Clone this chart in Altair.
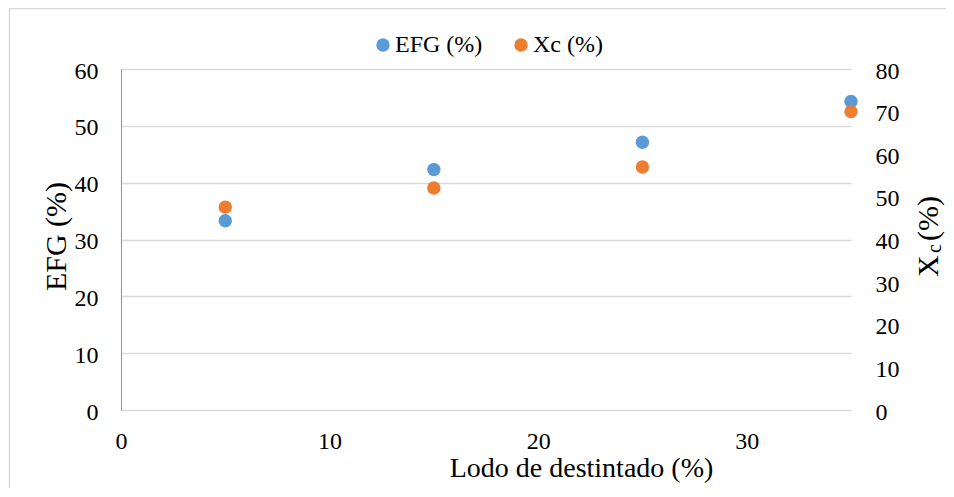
import altair as alt
import pandas as pd

# ---- data ----
lodo = [5, 15, 25, 35]
efg = [33.3, 42.3, 47.1, 54.3]
xc = [47.6, 52.1, 57.0, 70.0]
series = ["EFG (%)", "Xc (%)"]
colors = ["#5B9BD5", "#ED7D31"]
x_ticks = [0, 10, 20, 30]
left_ticks = [0, 10, 20, 30, 40, 50, 60]
right_ticks = [0, 10, 20, 30, 40, 50, 60, 70, 80]

FONT = "Times New Roman"
W, H = 730, 341

df_efg = pd.DataFrame({"lodo": lodo, "valor": efg, "serie": series[0]})
df_xc = pd.DataFrame({"lodo": lodo, "valor": xc, "serie": series[1]})

color = alt.Color(
    "serie:N",
    scale=alt.Scale(domain=series, range=colors),
    legend=alt.Legend(
        title=None, orient="none", direction="horizontal",
        legendX=250, legendY=-36,
        labelFont=FONT, labelFontSize=24, labelColor="black",
        symbolType="circle", symbolSize=180, symbolStrokeWidth=0,
        labelOffset=0, columnPadding=26,
    ),
)

x_enc = alt.X(
    "lodo:Q",
    scale=alt.Scale(domain=[0, 35], nice=False),
    axis=alt.Axis(
        values=x_ticks, grid=False, domain=False, ticks=False, labelFlush=False,
        labelPadding=19, labelFont=FONT, labelFontSize=24, labelColor="black",
        title="Lodo de destintado (%)", titleFont=FONT, titleFontSize=28,
        titleFontWeight="normal", titleColor="black",
        titleX=460, titleY=66, titleAlign="center", titleBaseline="alphabetic",
    ),
)

left = alt.Chart(df_efg).mark_circle(size=180, opacity=1).encode(
    x=x_enc,
    y=alt.Y(
        "valor:Q",
        scale=alt.Scale(domain=[0, 60], nice=False),
        axis=alt.Axis(
            values=left_ticks, grid=True, gridColor="#D9D9D9", gridWidth=1.3,
            domain=True, domainColor="#5B9BD5", domainWidth=1, ticks=False,
            labelPadding=23, labelOffset=2, labelFont=FONT, labelFontSize=24,
            labelColor="black",
            title="EFG (%)", titleFont=FONT, titleFontSize=30,
            titleFontWeight="normal", titleColor="black",
            titleX=-56, titleY=167, titleAngle=270, titleAlign="center",
            titleBaseline="alphabetic",
        ),
    ),
    color=color,
)

right = alt.Chart(df_xc).mark_circle(size=180, opacity=1).encode(
    x=x_enc,
    y=alt.Y(
        "valor:Q",
        scale=alt.Scale(domain=[0, 80], nice=False),
        axis=alt.Axis(
            orient="right", values=right_ticks, grid=False, domain=False,
            ticks=False, labelPadding=24, labelOffset=2, labelFont=FONT,
            labelFontSize=24, labelColor="black", title=None,
        ),
    ),
    color=color,
)

one = pd.DataFrame({"k": [0]})

border = alt.Chart(one).mark_rect(
    fill="white", fillOpacity=0, stroke="#D9D9D9", strokeWidth=1.5, clip=False
).encode(
    x=alt.value(-111.5), x2=alt.value(900), y=alt.value(-60.5), y2=alt.value(480)
)

t_x = alt.Chart(one).mark_text(
    text="X", font=FONT, fontSize=30, angle=270, align="left",
    baseline="alphabetic", color="black",
).encode(x=alt.value(817), y=alt.value(208))

t_c = alt.Chart(one).mark_text(
    text="c", font=FONT, fontSize=20, angle=270, align="left",
    baseline="alphabetic", color="black",
).encode(x=alt.value(820), y=alt.value(184))

t_p = alt.Chart(one).mark_text(
    text="(%)", font=FONT, fontSize=30, angle=270, align="left",
    baseline="alphabetic", color="black",
).encode(x=alt.value(817), y=alt.value(172))

pts = alt.layer(left, right).resolve_scale(y="independent")

chart = alt.layer(border, pts, t_x, t_c, t_p).resolve_scale(y="independent").properties(
    width=W, height=H,
    autosize=alt.AutoSizeParams(type="none"),
    padding={"left": 113, "top": 61, "right": 95, "bottom": 78},
    background="white",
).configure(
    font=FONT,
).configure_axis(
    labelFont=FONT, titleFont=FONT,
).configure_legend(
    labelFont=FONT,
).configure_view(stroke=None)

chart.save("out.html", embed_options={"renderer": "svg", "actions": False})
